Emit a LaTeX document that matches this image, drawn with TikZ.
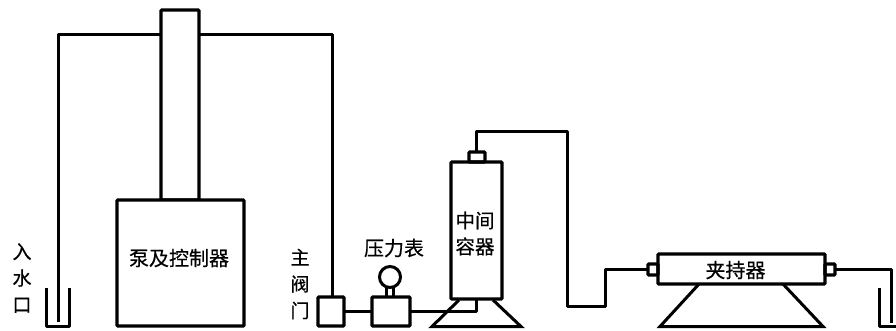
\documentclass[tikz,border=0pt]{standalone}
\usepackage{fontspec}
\newfontfamily\cjk{Noto Sans CJK SC}[FakeBold=0.5]
\tikzset{
  pipe/.style={draw=black,line width=3pt,line join=round},
  boxnode/.style={draw=black,line width=3.2pt,rounded corners=0.8pt,inner sep=0pt,outer sep=0pt,font=\cjk\fontsize{20pt}{22pt}\selectfont,align=center},
  label/.style={inner sep=0pt,font=\cjk\fontsize{19pt}{26.5pt}\selectfont,align=center},
}
\begin{document}
\begin{tikzpicture}[x=1pt,y=-1pt]
\useasboundingbox (0,0) rectangle (896,330);
% boxes
\node[boxnode,minimum width=38pt,minimum height=190pt] (column) at (180,105) {};
\node[boxnode,minimum width=127pt,minimum height=126pt,fill=white] (pump) at (180.5,263) {};
\node[font=\cjk\fontsize{20pt}{22pt}\selectfont,inner sep=0pt] (pumptext) at (179,258) {泵及控制器};
\node[boxnode,minimum width=26pt,minimum height=29pt] (valve) at (331,311.5) {};
\node[boxnode,minimum width=38pt,minimum height=29pt] (gauge) at (391,311.5) {};
\node[draw=black,line width=3pt,circle,minimum size=21pt,inner sep=0pt,outer sep=0pt] (dial) at (390,277) {};
\node[boxnode,minimum width=51pt,minimum height=137pt] (vessel) at (476.5,230.5) {};
\node[font=\cjk\fontsize{19.5pt}{26pt}\selectfont,inner sep=0pt,align=center] (vesseltext) at (475,233.5) {中间\\容器};
\node[boxnode,minimum width=16pt,minimum height=10pt] (vcap) at (477,157) {};
\node[boxnode,minimum width=167pt,minimum height=30pt] (clamp) at (741.5,269) {};
\node[font=\cjk\fontsize{20pt}{22pt}\selectfont,inner sep=0pt] (clamptext) at (735.5,270) {夹持器};
\node[boxnode,minimum width=10pt,minimum height=11pt] (lcap) at (653,269.5) {};
\node[boxnode,minimum width=10pt,minimum height=11pt] (rcap) at (830,269.5) {};
% labels
\node[label] (inlet) at (22,278) {入\\水\\口};
\node[label] (mainv) at (300,284) {主\\阀\\门};
\node[font=\cjk\fontsize{20pt}{22pt}\selectfont,inner sep=0pt] (gaugetext) at (394,248) {压力表};
% inlet & return pipes
\coordinate (inend) at (58,322);
\coordinate (tl) at (58,34.5);
\coordinate (tr) at (332,34.5);
\draw[pipe] (inend) -- (tl) -- (tl -| column.west);
\draw[pipe] (tr -| column.east) -- (tr) -- (tr |- valve.north);
% beakers
\coordinate (b1a) at (46,288);\coordinate (b1b) at (46,326);\coordinate (b1c) at (69.5,326);\coordinate (b1d) at (69.5,288);
\draw[pipe] (b1a) -- (b1b) -- (b1c) -- (b1d);
\coordinate (b2a) at (879,288);\coordinate (b2b) at (879,326);\coordinate (b2c) at (896,326);
\draw[pipe] (b2a) -- (b2b) -- (b2c);
% line pipes
\draw[pipe] (valve.east |- 0,311.5) -- (gauge.west |- 0,311.5);
\coordinate (vin) at (476,311.5);
\draw[pipe] (gauge.east |- vin) -- (vin) -- (vin |- vessel.south);
\coordinate (p1) at (476,131);\coordinate (p2) at (567,131);\coordinate (p3) at (567,306);\coordinate (p4) at (605,306);\coordinate (p5) at (605,269.5);
\draw[pipe] (vcap.north -| p1) -- (p1) -- (p2) -- (p3) -- (p4) -- (p5) -- (lcap.west);
\coordinate (p6) at (891,269.5);\coordinate (p7) at (891,323);
\draw[pipe] (rcap.east) -- (p6) -- (p7);
% gauge stem
\draw[line width=2.2pt] ([xshift=-3.5pt]dial.south) -- ([xshift=-3.5pt]dial.south |- gauge.north);
\draw[line width=2.2pt] ([xshift=3.5pt]dial.south) -- ([xshift=3.5pt]dial.south |- gauge.north);
% stands
\coordinate (s1a) at (459,300);\coordinate (s1b) at (432,326.5);\coordinate (s1c) at (521,326.5);\coordinate (s1d) at (493,300);
\draw[pipe,line join=miter] (s1a) -- (s1b) -- (s1c) -- (s1d);
\coordinate (s2a) at (699,284);\coordinate (s2b) at (660,326.5);\coordinate (s2c) at (823,326.5);\coordinate (s2d) at (783,284);
\draw[pipe,line join=miter] (s2a) -- (s2b) -- (s2c) -- (s2d);
\end{tikzpicture}
\end{document}
